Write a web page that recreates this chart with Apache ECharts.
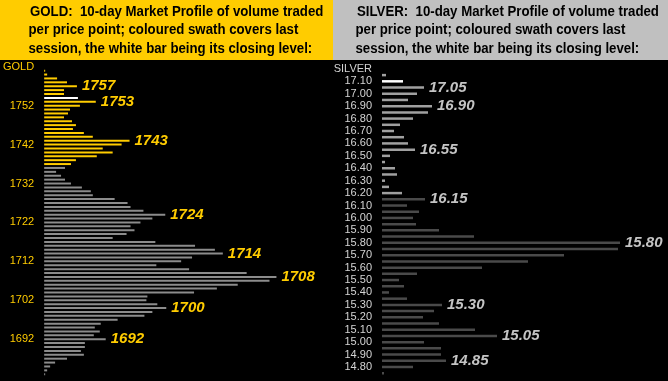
<!DOCTYPE html>
<html><head><meta charset="utf-8">
<script src="https://cdn.jsdelivr.net/npm/echarts@6/dist/echarts.min.js"></script>
<style>html,body{margin:0;padding:0;background:#000;}#c{width:668px;height:381px;}</style>
</head><body><div id="c"></div>
<script>
// ---- GOLD (price points, top to bottom) ----
const goldPrices = [1762,1761,1760,1759,1758,1757,1756,1755,1754,1753,
  1752,1751,1750,1749,1748,1747,1746,1745,1744,1743,
  1742,1741,1740,1739,1738,1737,1736,1735,1734,1733,
  1732,1731,1730,1729,1728,1727,1726,1725,1724,1723,
  1722,1721,1720,1719,1718,1717,1716,1715,1714,1713,
  1712,1711,1710,1709,1708,1707,1706,1705,1704,1703,
  1702,1701,1700,1699,1698,1697,1696,1695,1694,1693,
  1692,1691,1690,1689,1688,1687,1686,1685,1684,1683];
const goldVolume = [0,1,3,13,23,33,20,20,34,52,
  36,26,24,20,28,32,29,40,49,86,
  78,59,69,53,32,27,21,12,17,21,
  27,38,47,49,71,84,87,100,122,109,
  97,87,91,83,69,112,152,172,180,149,
  138,113,146,204,234,227,195,174,151,104,
  103,114,123,109,101,74,57,51,56,50,
  62,41,41,37,40,23,11,6,3,1];
const goldSessionRange = [1737, 1762];
const goldClose = 1754;
const goldCallouts = [1757,1753,1743,1724,1714,1708,1700,1692];
const goldAxisTitle = 'GOLD';
const goldTitleLines = ['GOLD:  10-day Market Profile of volume traded',
  'per price point; coloured swath covers last',
  'session, the white bar being its closing level:'];

// ---- SILVER ----
const silverPrices = ['17.20','17.15','17.10','17.05','17.00','16.95','16.90','16.85','16.80','16.75',
  '16.70','16.65','16.60','16.55','16.50','16.45','16.40','16.35','16.30','16.25',
  '16.20','16.15','16.10','16.05','16.00','15.95','15.90','15.85','15.80','15.75',
  '15.70','15.65','15.60','15.55','15.50','15.45','15.40','15.35','15.30','15.25',
  '15.20','15.15','15.10','15.05','15.00','14.95','14.90','14.85','14.80','14.75'];
const silverVolume = [0,4,21,42,35,26,50,46,31,18,
  12,22,26,33,8,3,13,15,3,7,
  20,43,25,37,31,34,57,92,238,236,
  182,146,100,35,17,22,7,25,60,52,
  41,57,93,115,42,59,59,64,31,2];
const silverSessionRange = [16.20, 17.20];
const silverClose = '17.10';
const silverCallouts = ['17.05','16.90','16.55','16.15','15.80','15.30','15.05','14.85'];
const silverAxisTitle = 'SILVER';
const silverTitleLines = ['SILVER:  10-day Market Profile of volume traded',
  'per price point; coloured swath covers last',
  'session, the white bar being its closing level:'];

const GOLD_Y = '#FFCC00';
const chart = echarts.init(document.getElementById('c'), null, {renderer:'canvas'});

function buildData(prices, vols, range, close, callouts, sessColor, restColor, lblColor) {
  return prices.map((p, i) => {
    const pv = Number(p);
    let color = (pv >= range[0] - 1e-9 && pv <= range[1] + 1e-9) ? sessColor : restColor;
    if (String(p) === String(close)) color = '#FFFFFF';
    const item = { value: vols[i], itemStyle: { color } };
    if (callouts.map(String).includes(String(p))) {
      item.label = { show: true, position: 'right', distance: 5, formatter: '{b}',
        color: lblColor, fontSize: 15, fontWeight: 'bold', fontStyle: 'italic',
        fontFamily: '"Liberation Sans", Arial, sans-serif' };
    }
    return item;
  });
}

const titleFont = 'bold 14px "Liberation Sans", Arial, sans-serif';
function titleGraphics(lines, x0) {
  const ys = [12, 30.5, 49];
  return lines.map((t, i) => ({
    type: 'text', x: x0 - (i === 0 ? 0 : 1.5), y: ys[i], scaleX: 0.945, silent: true,
    style: { text: t, font: titleFont, fill: '#000', verticalAlign: 'middle' }
  }));
}

const option = {
  backgroundColor: '#000',
  animation: false,
  graphic: [
    { type: 'rect', shape: { x: 0, y: 0, width: 333, height: 60 }, style: { fill: GOLD_Y }, silent: true },
    { type: 'rect', shape: { x: 333, y: 0, width: 335, height: 60 }, style: { fill: '#C0C0C0' }, silent: true },
    ...titleGraphics(goldTitleLines, 30),
    ...titleGraphics(silverTitleLines, 357)
  ],
  grid: [
    { left: 42, top: 64.8, width: 291, height: 311.4, containLabel: false },
    { left: 382, top: 65.8, width: 286, height: 310.5, containLabel: false }
  ],
  xAxis: [
    { type: 'value', gridIndex: 0, min: 0, max: 291, show: false },
    { type: 'value', gridIndex: 1, min: 0, max: 286, show: false }
  ],
  yAxis: [
    { type: 'category', gridIndex: 0, data: goldPrices.map(String), inverse: true,
      axisLine: { show: false }, axisTick: { show: false }, splitLine: { show: false },
      axisLabel: { color: GOLD_Y, fontSize: 11, margin: 10, fontFamily: '"Liberation Sans", Arial, sans-serif',
        interval: (idx, val) => Number(val) % 10 === 2,
        formatter: (v) => (Number(v) === goldPrices[0] ? goldAxisTitle : v) } },
    { type: 'category', gridIndex: 1, data: silverPrices, inverse: true,
      axisLine: { show: false }, axisTick: { show: false }, splitLine: { show: false },
      axisLabel: { color: '#D4D4D4', fontSize: 11, margin: 10, fontFamily: '"Liberation Sans", Arial, sans-serif',
        interval: (idx) => idx % 2 === 0,
        formatter: (v) => (v === silverPrices[0] ? silverAxisTitle : v) } }
  ],
  series: [
    { type: 'bar', xAxisIndex: 0, yAxisIndex: 0, barWidth: 2,
      data: buildData(goldPrices, goldVolume, goldSessionRange, goldClose, goldCallouts, GOLD_Y, '#8C8C8C', GOLD_Y) },
    { type: 'bar', xAxisIndex: 1, yAxisIndex: 1, barWidth: 2.5,
      data: buildData(silverPrices, silverVolume, silverSessionRange, silverClose, silverCallouts, '#A0A0A0', '#4A4A4A', '#C4C4C4') }
  ]
};
chart.setOption(option);
</script></body></html>
